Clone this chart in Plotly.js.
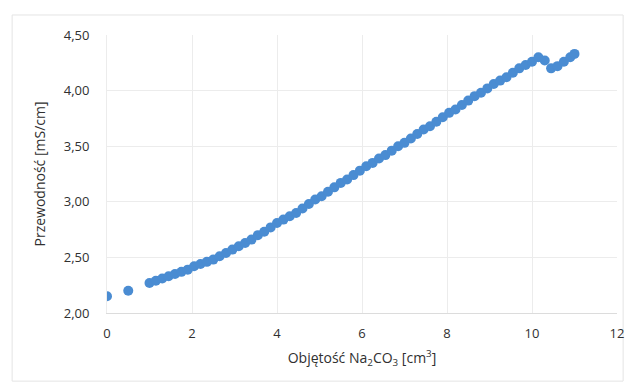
<!DOCTYPE html>
<html>
<head>
<meta charset="utf-8">
<script src="https://cdn.plot.ly/plotly-3.0.1.min.js"></script>
<style>
  html, body { margin: 0; padding: 0; background: #ffffff; }
  #chart { width: 629px; height: 385px; }
</style>
</head>
<body>
<div id="chart"></div>
<script>
// Conductivity titration: volume of Na2CO3 added vs. measured conductivity
const volume = [
  0, 0.5,
  1.00, 1.15, 1.30, 1.45, 1.60, 1.75, 1.90, 2.05, 2.20, 2.35,
  2.50, 2.65, 2.80, 2.95, 3.10, 3.25, 3.40, 3.55, 3.70, 3.85,
  4.00, 4.15, 4.30, 4.45, 4.60, 4.75, 4.90, 5.05, 5.20, 5.35,
  5.50, 5.65, 5.80, 5.95, 6.10, 6.25, 6.40, 6.55, 6.70, 6.85,
  7.00, 7.15, 7.30, 7.45, 7.60, 7.75, 7.90, 8.05, 8.20, 8.35,
  8.50, 8.65, 8.80, 8.95, 9.10, 9.25, 9.40, 9.55, 9.70, 9.85,
  10.00, 10.15, 10.30, 10.45, 10.60, 10.75, 10.90, 11.00
];
const conductivity = [
  2.15, 2.20,
  2.27, 2.29, 2.31, 2.33, 2.35, 2.37, 2.39, 2.42, 2.44, 2.46,
  2.48, 2.51, 2.54, 2.57, 2.60, 2.63, 2.66, 2.70, 2.73, 2.77,
  2.81, 2.84, 2.87, 2.90, 2.94, 2.98, 3.02, 3.05, 3.09, 3.13,
  3.17, 3.20, 3.24, 3.28, 3.32, 3.35, 3.39, 3.42, 3.46, 3.50,
  3.53, 3.57, 3.61, 3.65, 3.68, 3.72, 3.76, 3.80, 3.83, 3.87,
  3.91, 3.95, 3.98, 4.02, 4.06, 4.09, 4.12, 4.16, 4.20, 4.23,
  4.26, 4.30, 4.27, 4.20, 4.22, 4.26, 4.30, 4.33
];
const xTicks = [0, 2, 4, 6, 8, 10, 12];
const yTicks = [2.0, 2.5, 3.0, 3.5, 4.0, 4.5];

const font = "'Open Sans', 'Liberation Sans', sans-serif";

const trace = {
  x: volume,
  y: conductivity,
  type: 'scatter',
  mode: 'markers',
  marker: { color: '#4a8cd2', size: 10 },
  hoverinfo: 'x+y'
};

const layout = {
  width: 629,
  height: 385,
  margin: { l: 107, r: 12, t: 35, b: 72 },
  paper_bgcolor: '#ffffff',
  plot_bgcolor: '#ffffff',
  separators: ', ',
  showlegend: false,
  font: { family: font, color: '#303030', size: 13 },
  xaxis: {
    range: [0, 12],
    tickvals: xTicks,
    ticktext: xTicks.map(String),
    showgrid: true,
    gridcolor: '#ececec',
    gridwidth: 1,
    zeroline: false,
    showline: true,
    linecolor: '#dcdcdc',
    linewidth: 1,
    ticks: '',
    ticklabelstandoff: 8,
    tickfont: { family: font, size: 13, color: '#303030' },
    title: {
      text: 'Objętość Na<sub>2</sub>CO<sub>3</sub> [cm<sup>3</sup>]',
      font: { family: font, size: 14, color: '#303030' },
      standoff: 12
    }
  },
  yaxis: {
    range: [2.0, 4.5],
    tickvals: yTicks,
    tickformat: '.2f',
    showgrid: true,
    gridcolor: '#ececec',
    gridwidth: 1,
    zeroline: false,
    showline: true,
    linecolor: '#ececec',
    linewidth: 1,
    ticks: '',
    ticklabelstandoff: 14,
    tickfont: { family: font, size: 13, color: '#303030' },
    title: {
      text: 'Przewodność [mS/cm]',
      font: { family: font, size: 14, color: '#303030' },
      standoff: 14
    }
  },
  shapes: [
    {
      type: 'rect', xref: 'paper', yref: 'paper',
      x0: -0.186, x1: 1.012, y0: -0.245, y1: 1.072,
      line: { color: '#e4e4e4', width: 1 },
      fillcolor: 'rgba(0,0,0,0)',
      layer: 'below'
    }
  ]
};

Plotly.newPlot('chart', [trace], layout, { displayModeBar: false, staticPlot: true });
</script>
</body>
</html>
